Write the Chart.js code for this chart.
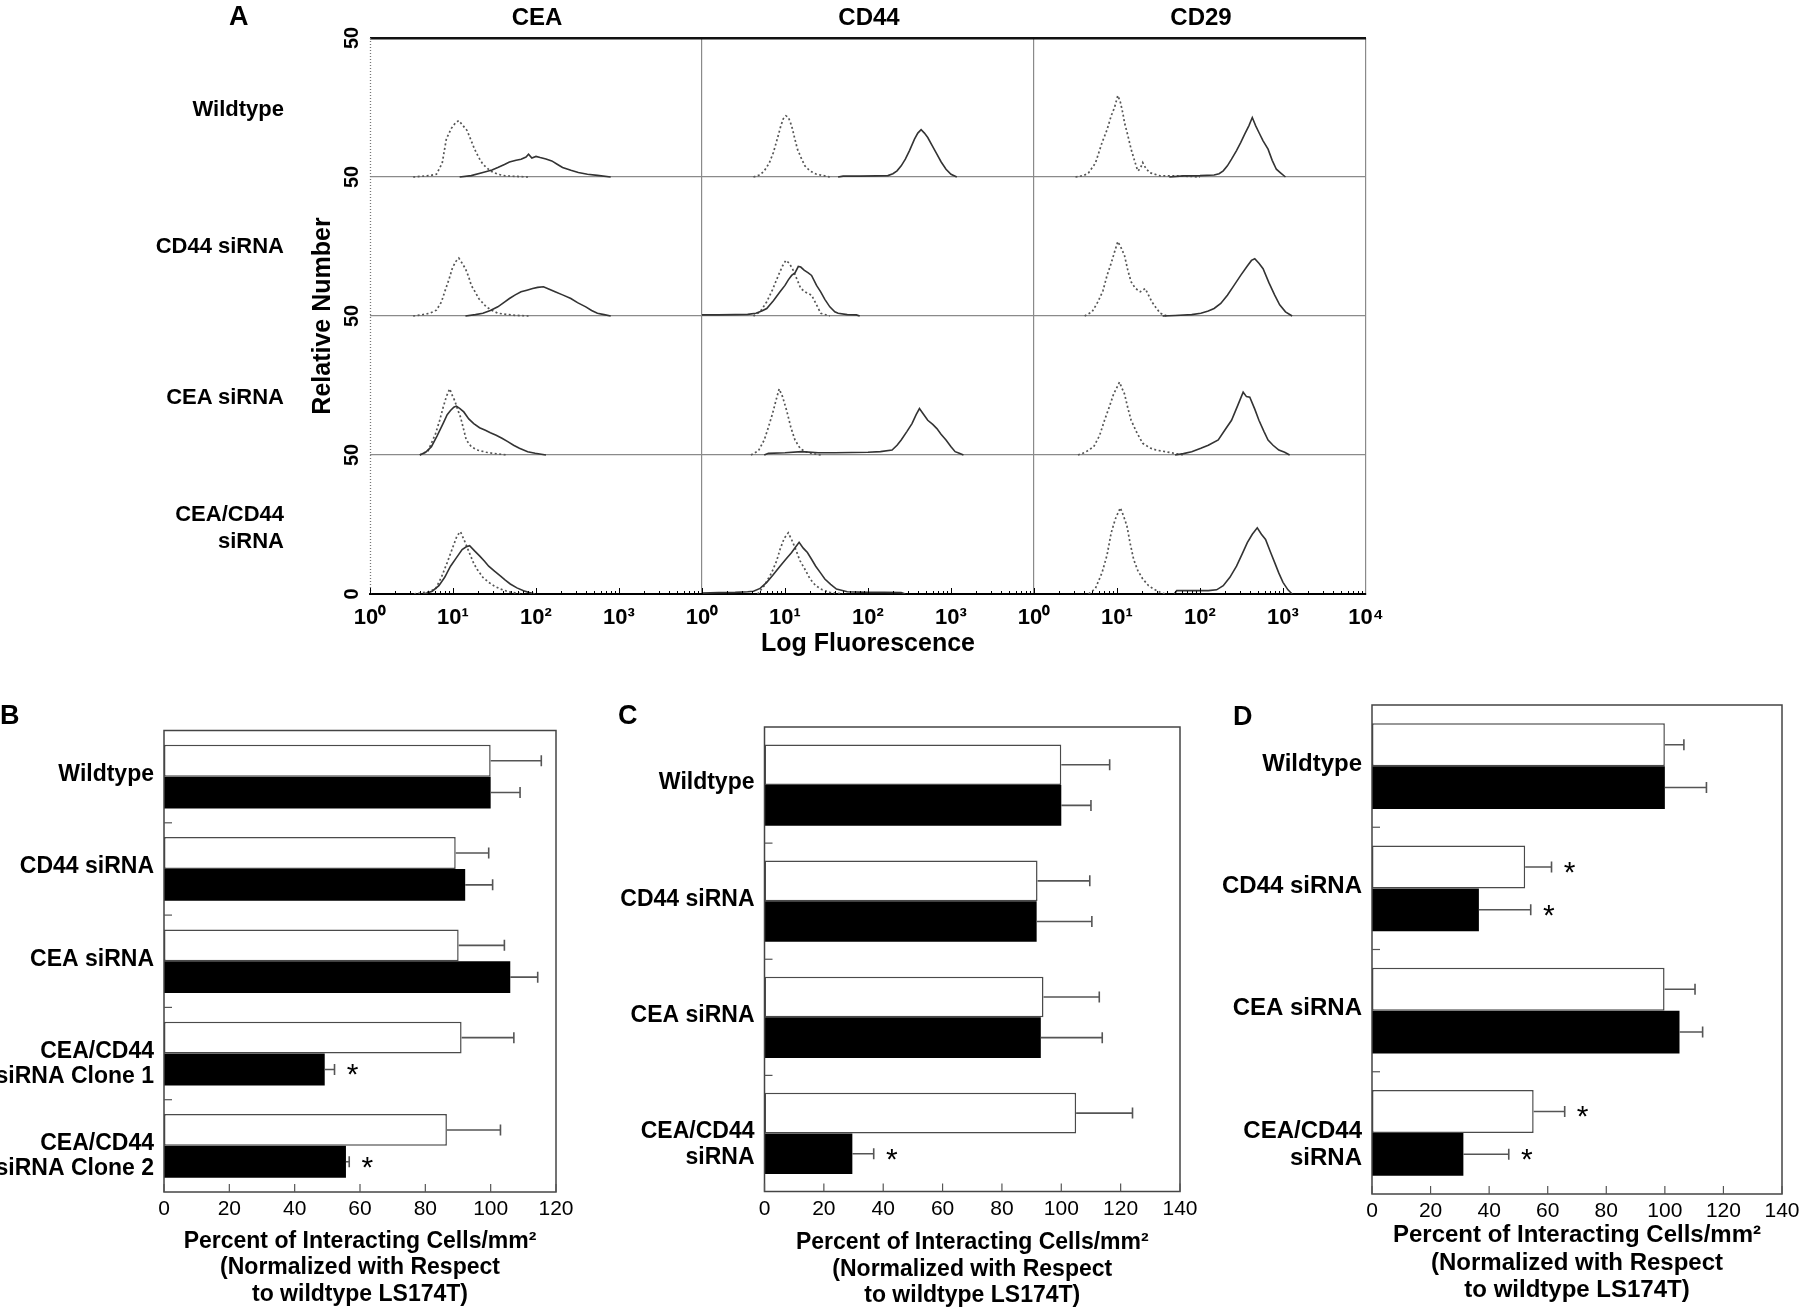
<!DOCTYPE html>
<html><head><meta charset="utf-8">
<script src="https://cdn.jsdelivr.net/npm/chart.js@4.4.1/dist/chart.umd.min.js"></script>
<style>
html,body{margin:0;padding:0;background:#fff;}
#fig{position:relative;width:1800px;height:1310px;overflow:hidden;font-family:'Liberation Sans',Arial,sans-serif;color:#000;background:#fff;}
canvas{position:absolute;}
.lbl{position:absolute;font-weight:bold;white-space:nowrap;}
.row{left:0;width:284px;text-align:right;font-size:22px;line-height:27px;}
.col{width:200px;text-align:center;font-size:24px;line-height:28px;top:3px;}
.pl{font-size:27px;line-height:30px;}
</style></head><body>
<div id="fig">
<canvas id="cA" width="1400" height="680" style="left:0;top:0"></canvas>
<canvas id="cB" width="600" height="610" style="left:0;top:700px"></canvas>
<canvas id="cC" width="600" height="610" style="left:600px;top:700px"></canvas>
<canvas id="cD" width="600" height="630" style="left:1200px;top:680px"></canvas>

<div class="lbl pl" style="left:229px;top:1px">A</div>
<div class="lbl col" style="left:437px">CEA</div>
<div class="lbl col" style="left:769px">CD44</div>
<div class="lbl col" style="left:1101px">CD29</div>
<div class="lbl row" style="top:95px">Wildtype</div>
<div class="lbl row" style="top:232px">CD44 siRNA</div>
<div class="lbl row" style="top:383px">CEA siRNA</div>
<div class="lbl row" style="top:500px">CEA/CD44<br>siRNA</div>
<div class="lbl pl" style="left:0px;top:700px">B</div>
<div class="lbl pl" style="left:618px;top:700px">C</div>
<div class="lbl pl" style="left:1233px;top:701px">D</div>
</div>
<script>
// ---------- Panel A data: [log10 fluorescence, relative number] ----------
const aColumns = ['CEA', 'CD44', 'CD29'];
const aRows = ['Wildtype', 'CD44 siRNA', 'CEA siRNA', 'CEA/CD44 siRNA'];
const aTickLabels = ['10\u2070', '10\u00B9', '10\u00B2', '10\u00B3', '10\u2074'];
const aYTickLabels = ['0', '50'];

// CEA column (dotted = control, solid = antibody)
const cea_wt_iso = [[0.52,0],[0.72,0.5],[0.80,1],[0.87,5],[0.92,13.7],[0.98,17.5],[1.03,19.5],[1.07,20.3],[1.12,18.5],[1.17,16.7],[1.22,13],[1.26,10],[1.31,7],[1.36,4.6],[1.45,2.2],[1.54,1],[1.63,0.4],[1.91,0]];
const cea_wt_ab = [[1.08,0],[1.22,0.5],[1.36,1.6],[1.47,2.5],[1.54,3.4],[1.62,4.5],[1.68,5.4],[1.76,6.0],[1.82,6.4],[1.88,7.2],[1.91,8.2],[1.95,6.8],[2.00,7.4],[2.05,7.0],[2.12,6.5],[2.19,5.8],[2.26,4.5],[2.32,3.4],[2.42,2.4],[2.51,1.6],[2.62,1],[2.74,0.6],[2.90,0]];
const cea_cd44_iso = [[0.52,0],[0.62,0.4],[0.72,1],[0.80,2.1],[0.86,5],[0.90,8.7],[0.95,13],[0.99,17],[1.03,19.5],[1.07,20.8],[1.11,19],[1.15,17],[1.19,14],[1.22,11],[1.27,8.5],[1.31,6.3],[1.40,3.3],[1.47,2],[1.54,1],[1.72,0.3],[1.91,0]];
const cea_cd44_ab = [[1.15,0],[1.27,0.5],[1.36,1],[1.45,2],[1.54,3.3],[1.62,5],[1.68,6.3],[1.75,7.6],[1.82,8.7],[1.89,9.3],[1.96,9.9],[2.02,10.3],[2.09,10.5],[2.16,9.6],[2.23,8.7],[2.32,7.6],[2.42,6.3],[2.50,4.8],[2.60,3.3],[2.67,2],[2.74,1],[2.82,0.5],[2.90,0]];
const cea_cea_iso = [[0.60,0],[0.70,1.5],[0.79,7.7],[0.84,12.5],[0.88,17],[0.92,21],[0.96,23.8],[0.99,21.5],[1.02,19.6],[1.06,16],[1.09,13.7],[1.13,9],[1.16,5.4],[1.22,3],[1.29,1.8],[1.40,1],[1.48,0.6],[1.66,0]];
const cea_cea_ab = [[0.60,0],[0.67,1],[0.74,3],[0.81,7],[0.88,11.3],[0.93,14.5],[0.97,16],[1.01,17.2],[1.04,17.6],[1.08,16.8],[1.13,15.5],[1.19,13],[1.25,11.3],[1.32,9.8],[1.39,8.9],[1.45,8],[1.52,7.1],[1.59,6],[1.66,4.8],[1.73,3.5],[1.80,2.4],[1.90,1.2],[1.99,0.6],[2.12,0]];
const cea_dko_iso = [[0.53,0],[0.70,0.8],[0.79,1.8],[0.86,6],[0.93,11.3],[1.00,17],[1.05,21],[1.09,22.4],[1.14,19],[1.20,14.6],[1.25,11],[1.29,8.9],[1.36,6],[1.43,4.2],[1.50,2.8],[1.57,1.8],[1.67,0.8],[1.75,0.4],[1.85,0]];
const cea_dko_ab = [[0.65,0],[0.75,1],[0.83,3],[0.90,6],[0.97,10],[1.04,13],[1.11,16],[1.16,17],[1.20,17.4],[1.26,15.5],[1.32,13.7],[1.38,11.8],[1.43,10],[1.50,8.2],[1.57,6.5],[1.63,5],[1.69,3.6],[1.77,2.2],[1.85,1.2],[1.92,0.5],[1.99,0]];

// CD44 column
const cd44_wt_iso = [[0.62,0],[0.70,0.8],[0.75,2.2],[0.81,5],[0.86,8.8],[0.91,14],[0.95,18.4],[0.98,21],[1.01,22],[1.04,21.5],[1.08,18.4],[1.12,13.5],[1.15,10],[1.20,6.5],[1.24,4],[1.30,2.2],[1.38,1],[1.54,0]];
const cd44_wt_ab = [[1.64,0],[1.70,0.3],[1.90,0.3],[2.10,0.4],[2.24,0.5],[2.30,1.2],[2.35,2.2],[2.40,4],[2.45,6.4],[2.50,9.5],[2.56,13.6],[2.60,15.8],[2.64,17],[2.68,15.8],[2.72,14.2],[2.77,11.5],[2.83,8.2],[2.88,5.5],[2.94,2.8],[3.00,1],[3.07,0]];
const cd44_cd44_iso = [[0.62,0],[0.70,1.5],[0.78,5.1],[0.85,9.5],[0.92,14.6],[0.97,18],[1.01,20],[1.05,19],[1.09,17],[1.14,13.5],[1.19,9.9],[1.25,8.5],[1.32,7.5],[1.38,4],[1.43,1],[1.54,0]];
const cd44_cd44_ab = [[0.00,0.4],[0.20,0.4],[0.40,0.5],[0.55,0.6],[0.65,1],[0.72,1.8],[0.78,2.7],[0.86,5.5],[0.94,8.7],[1.00,11],[1.04,13],[1.08,14.6],[1.12,15.5],[1.16,17.8],[1.19,17.6],[1.23,16.5],[1.28,15.5],[1.32,14.6],[1.38,11],[1.43,8.7],[1.48,6],[1.54,3.3],[1.60,1.5],[1.64,1],[1.75,0.5],[1.86,0.4],[1.90,0]];
const cd44_cea_iso = [[0.59,0],[0.68,1.5],[0.75,5.4],[0.80,10],[0.85,14.9],[0.89,19.5],[0.93,23.8],[0.97,21],[1.02,16],[1.07,10],[1.12,5.4],[1.18,2.5],[1.24,1.2],[1.35,0.4],[1.43,0]];
const cd44_cea_ab = [[0.75,0],[0.80,0.6],[1.00,0.8],[1.20,1.2],[1.40,0.8],[1.60,0.8],[1.80,0.9],[2.00,1],[2.15,1.2],[2.29,1.8],[2.35,3.5],[2.40,5.4],[2.47,8.5],[2.53,11.3],[2.58,14.5],[2.62,16.7],[2.66,15],[2.72,12.5],[2.78,11],[2.83,9.5],[2.88,7.5],[2.94,5.4],[3.00,3],[3.05,1.2],[3.10,0.6],[3.15,0]];
const cd44_dko_iso = [[0.67,0],[0.75,3],[0.84,7.7],[0.90,12],[0.94,16],[0.99,20],[1.04,22],[1.08,19.5],[1.13,16],[1.18,12],[1.24,8.9],[1.30,5.5],[1.37,3],[1.45,1.5],[1.54,0.6],[1.70,0]];
const cd44_dko_ab = [[0.00,0.3],[0.20,0.5],[0.40,0.6],[0.55,0.8],[0.62,1],[0.70,2],[0.78,4.2],[0.86,7],[0.94,10],[1.01,12.5],[1.08,14.9],[1.13,17],[1.17,18.6],[1.22,16.5],[1.27,14.9],[1.32,12.5],[1.37,10],[1.43,7.5],[1.48,5.4],[1.55,3.5],[1.62,1.8],[1.75,0.8],[2.00,0.6],[2.20,0.6],[2.40,0.5],[2.45,0]];

// CD29 column
const cd29_wt_iso = [[0.50,0],[0.60,0.5],[0.66,1.6],[0.74,5],[0.82,12.4],[0.88,17],[0.93,22],[0.97,25],[1.01,29.3],[1.04,27],[1.07,23],[1.09,19.6],[1.13,15],[1.17,10],[1.21,6],[1.25,2.2],[1.28,3],[1.31,5.2],[1.34,3.5],[1.39,1.6],[1.52,0.4],[1.70,0.4],[1.90,0.2],[2.00,0]];
const cd29_wt_ab = [[1.63,0],[1.80,0.4],[2.00,0.5],[2.17,0.7],[2.23,1.2],[2.28,2.2],[2.33,4],[2.38,6.4],[2.44,9.5],[2.49,12.4],[2.54,15.5],[2.59,18.5],[2.63,21.4],[2.67,18.5],[2.71,16],[2.76,13],[2.82,10],[2.87,6],[2.92,2.8],[2.97,1.5],[3.03,0]];
const cd29_cd44_iso = [[0.61,0],[0.70,1.5],[0.77,5.1],[0.83,9],[0.88,14.6],[0.93,19],[0.97,23],[1.01,26.8],[1.05,24.5],[1.09,21.8],[1.13,16.5],[1.17,12.3],[1.22,10],[1.28,8.7],[1.34,9.9],[1.38,7.5],[1.42,5.1],[1.47,3],[1.52,1],[1.60,0]];
const cd29_cd44_ab = [[1.55,0],[1.70,0.2],[1.90,0.5],[2.01,1],[2.10,1.8],[2.17,2.7],[2.25,4.5],[2.33,7.5],[2.41,11],[2.49,14.6],[2.57,18],[2.62,20],[2.66,20.6],[2.71,19],[2.76,17],[2.83,12],[2.90,7.5],[2.96,4],[3.03,1.5],[3.11,0]];
const cd29_cea_iso = [[0.53,0],[0.62,1],[0.72,3],[0.79,7],[0.85,12.5],[0.91,17.5],[0.96,22],[1.03,26.2],[1.06,24],[1.09,22],[1.13,17],[1.17,12.5],[1.24,8],[1.31,4.2],[1.40,2.5],[1.47,1.8],[1.58,1.2],[1.69,0.6],[1.80,0]];
const cd29_cea_ab = [[1.70,0],[1.80,0.5],[1.90,1.2],[2.01,2.4],[2.10,3.5],[2.22,5.4],[2.30,9],[2.38,12.5],[2.45,17.5],[2.52,22.6],[2.56,21],[2.60,20.8],[2.66,16.5],[2.71,12.5],[2.77,8.5],[2.82,5.4],[2.88,3.5],[2.95,1.8],[3.02,1],[3.08,0]];
const cd29_dko_iso = [[0.66,0],[0.74,2],[0.82,7.7],[0.88,14],[0.93,22],[0.98,27],[1.04,31],[1.08,28],[1.12,24.4],[1.16,18],[1.20,12.5],[1.25,8.5],[1.31,5.4],[1.38,3],[1.44,1.8],[1.52,0.6],[1.58,0]];
const cd29_dko_ab = [[1.69,0],[1.72,1.2],[1.90,1.2],[2.10,1.2],[2.20,1.5],[2.28,3],[2.36,6],[2.44,10],[2.51,14.5],[2.57,18.5],[2.63,21.5],[2.69,23.8],[2.74,21.5],[2.79,19.6],[2.85,15],[2.90,11.3],[2.95,7.5],[3.00,4.2],[3.06,1.5],[3.11,0]];

// ---------- Panels B, C, D data ----------
const bLabels = ['Wildtype', 'CD44 siRNA', 'CEA siRNA', ['', 'CEA/CD44', 'siRNA Clone 1'], ['', 'CEA/CD44', 'siRNA Clone 2']];
const bWhite = [100, 89.3, 90.2, 91.1, 86.6];
const bWhiteErr = [15.5, 10.1, 14.0, 16.0, 16.4];
const bWhiteSig = [0, 0, 0, 0, 0];
const bBlack = [100, 92.2, 106, 49.2, 55.7];
const bBlackErr = [9.0, 8.4, 8.4, 3.0, 1.0];
const bBlackSig = [0, 0, 0, 1, 1];
const bTicks = [0, 20, 40, 60, 80, 100, 120];

const cLabels = ['Wildtype', 'CD44 siRNA', 'CEA siRNA', ['', 'CEA/CD44', 'siRNA']];
const cWhite = [100, 92.0, 94.0, 105];
const cWhiteErr = [16.3, 17.6, 18.8, 19.0];
const cWhiteSig = [0, 0, 0, 0];
const cBlack = [100, 91.7, 93.1, 29.6];
const cBlackErr = [10.0, 18.6, 20.7, 7.2];
const cBlackSig = [0, 0, 0, 1];
const cTicks = [0, 20, 40, 60, 80, 100, 120, 140];

const dLabels = ['Wildtype', 'CD44 siRNA', 'CEA siRNA', ['', 'CEA/CD44', 'siRNA']];
const dWhite = [100, 52.3, 99.9, 55.2];
const dWhiteErr = [6.5, 9.0, 10.4, 10.6];
const dWhiteSig = [0, 1, 0, 1];
const dBlack = [100, 36.5, 105, 31.2];
const dBlackErr = [14.2, 17.7, 7.9, 15.5];
const dBlackSig = [0, 1, 0, 1];
const dTicks = [0, 20, 40, 60, 80, 100, 120, 140];

const xTitle = ['Percent of Interacting Cells/mm\u00B2', '(Normalized with Respect', 'to wildtype LS174T)'];

// ---------- Chart setup ----------
const FONT = "'Liberation Sans', Arial, sans-serif";
Chart.defaults.font.family = FONT;
Chart.defaults.color = '#000';

const isoGrid = [
  [cea_wt_iso, cd44_wt_iso, cd29_wt_iso],
  [cea_cd44_iso, cd44_cd44_iso, cd29_cd44_iso],
  [cea_cea_iso, cd44_cea_iso, cd29_cea_iso],
  [cea_dko_iso, cd44_dko_iso, cd29_dko_iso]
];
const abGrid = [
  [cea_wt_ab, cd44_wt_ab, cd29_wt_ab],
  [cea_cd44_ab, cd44_cd44_ab, cd29_cd44_ab],
  [cea_cea_ab, cd44_cea_ab, cd29_cea_ab],
  [cea_dko_ab, cd44_dko_ab, cd29_dko_ab]
];
const DEC = 4, ROWMAX = 50;
const aDatasets = [];
for (let r = 0; r < aRows.length; r++) {
  for (let c = 0; c < aColumns.length; c++) {
    const toPts = arr => arr.map(p => ({x: c * DEC + p[0], y: (aRows.length - 1 - r) * ROWMAX + p[1]}));
    aDatasets.push({label: aRows[r] + ' ' + aColumns[c] + ' ab', data: toPts(abGrid[r][c]),
      borderColor: '#333', borderWidth: 1.6, pointRadius: 0, tension: 0, fill: false});
    aDatasets.push({label: aRows[r] + ' ' + aColumns[c] + ' control', data: toPts(isoGrid[r][c]),
      borderColor: '#555', borderWidth: 1.7, borderDash: [2, 2.5], pointRadius: 0, tension: 0, fill: false});
  }
}

const aDecor = {
  id: 'aDecor',
  afterDraw(chart) {
    const {ctx, chartArea: a, scales: {x}} = chart;
    ctx.save();
    // dotted left edge (dense minor ticks)
    ctx.strokeStyle = '#777'; ctx.lineWidth = 1.3;
    ctx.setLineDash([1, 2]);
    ctx.beginPath(); ctx.moveTo(a.left + 0.5, a.top); ctx.lineTo(a.left + 0.5, a.bottom); ctx.stroke();
    ctx.setLineDash([]);
    // bottom minor ticks on log scale
    ctx.strokeStyle = '#000'; ctx.lineWidth = 1;
    for (let c = 0; c < aColumns.length; c++) {
      for (let d = 0; d < DEC; d++) {
        for (let k = 1; k <= 9; k++) {
          const px = Math.round(x.getPixelForValue(c * DEC + d + Math.log10(k))) + 0.5;
          const len = k === 1 ? 6 : 3;
          ctx.beginPath(); ctx.moveTo(px, a.bottom); ctx.lineTo(px, a.bottom - len); ctx.stroke();
        }
      }
    }
    ctx.restore();
  }
};

new Chart(document.getElementById('cA'), {
  type: 'line',
  data: {datasets: aDatasets},
  options: {
    responsive: false, animation: false, devicePixelRatio: 1,
    layout: {padding: {left: 304, right: 34, top: 38, bottom: 17}},
    plugins: {legend: {display: false}, tooltip: {enabled: false}},
    scales: {
      x: {
        type: 'linear', min: 0, max: aColumns.length * DEC,
        ticks: {stepSize: 1, autoSkip: false, maxRotation: 0, padding: 11,
          font: {size: 22, weight: 'bold'}, color: '#000',
          callback: v => v === aColumns.length * DEC ? aTickLabels[DEC] : aTickLabels[v % DEC]},
        grid: {drawTicks: false, lineWidth: 1.2,
          color: ctx => (ctx.tick && ctx.tick.value > 0 && ctx.tick.value % DEC === 0) ? '#8a8a8a' : 'rgba(0,0,0,0)'},
        border: {color: '#000', width: 2},
        title: {display: true, text: 'Log Fluorescence', font: {size: 25, weight: 'bold'}, color: '#000', padding: {top: 4, bottom: 4}},
        afterFit: s => { s.height = 69; }
      },
      y: {
        type: 'linear', min: 0, max: aRows.length * ROWMAX,
        ticks: {stepSize: ROWMAX, minRotation: 90, maxRotation: 90, crossAlign: 'center', padding: 6,
          font: {size: 20, weight: 'bold'}, color: '#000',
          callback: v => v === 0 ? aYTickLabels[0] : aYTickLabels[1]},
        grid: {drawTicks: false,
          color: ctx => !ctx.tick ? 'rgba(0,0,0,0)' : (ctx.tick.value === aRows.length * ROWMAX ? '#111' : (ctx.tick.value === 0 ? 'rgba(0,0,0,0)' : '#8a8a8a')),
          lineWidth: ctx => (ctx.tick && ctx.tick.value === aRows.length * ROWMAX) ? 2.5 : 1.2},
        border: {display: false},
        title: {display: true, text: 'Relative Number', font: {size: 25, weight: 'bold'}, color: '#000', padding: {top: 4, bottom: 4}},
        afterFit: s => { s.width = 66; }
      }
    }
  },
  plugins: [aDecor]
});

// ---------- bar panels ----------
const barDecor = {
  id: 'barDecor',
  afterDatasetsDraw(chart) {
    const {ctx, chartArea: a, scales: {x, y}} = chart;
    ctx.save();
    ctx.lineCap = 'butt';
    chart.data.datasets.forEach((ds, di) => {
      const meta = chart.getDatasetMeta(di);
      meta.data.forEach((bar, i) => {
        const x0 = x.getPixelForValue(ds.data[i]);
        const x1 = x.getPixelForValue(ds.data[i] + ds.err[i]);
        const yc = bar.y;
        ctx.strokeStyle = '#555'; ctx.lineWidth = 1.6;
        ctx.beginPath(); ctx.moveTo(x0, yc); ctx.lineTo(x1, yc);
        ctx.moveTo(x1, yc - 5.5); ctx.lineTo(x1, yc + 5.5); ctx.stroke();
        if (ds.sig[i]) {
          ctx.fillStyle = '#000';
          ctx.font = '30px ' + FONT;
          ctx.textAlign = 'center'; ctx.textBaseline = 'alphabetic';
          ctx.fillText('*', x1 + 18, yc + 15);
        }
      });
    });
    // frame
    ctx.strokeStyle = '#444'; ctx.lineWidth = 1.5;
    ctx.strokeRect(a.left, a.top, a.width, a.height);
    // inward x ticks
    ctx.lineWidth = 1.2; ctx.strokeStyle = '#555';
    x.ticks.forEach(t => {
      const px = x.getPixelForValue(t.value);
      ctx.beginPath(); ctx.moveTo(px, a.bottom); ctx.lineTo(px, a.bottom - 8); ctx.stroke();
    });
    // inward category boundary ticks
    const n = chart.data.labels.length;
    for (let i = 1; i < n; i++) {
      const yb = (y.getPixelForValue(i - 1) + y.getPixelForValue(i)) / 2;
      ctx.beginPath(); ctx.moveTo(a.left, yb); ctx.lineTo(a.left + 8, yb); ctx.stroke();
    }
    ctx.restore();
  }
};

function barPanel(id, labels, white, whiteErr, whiteSig, black, blackErr, blackSig, ticks, geom) {
  new Chart(document.getElementById(id), {
    type: 'bar',
    data: {labels: labels, datasets: [
      {label: 'white', data: white, err: whiteErr, sig: whiteSig, backgroundColor: '#fff', borderColor: '#4a4a4a', borderWidth: 1.5, borderSkipped: false},
      {label: 'black', data: black, err: blackErr, sig: blackSig, backgroundColor: '#000', borderColor: '#000', borderWidth: 0}
    ]},
    options: {
      indexAxis: 'y', responsive: false, animation: false, devicePixelRatio: 1,
      datasets: {bar: {categoryPercentage: geom.cat, barPercentage: 1}},
      layout: {padding: geom.pad},
      plugins: {legend: {display: false}, tooltip: {enabled: false}},
      scales: {
        x: {type: 'linear', min: ticks[0], max: ticks[ticks.length - 1],
          afterBuildTicks: s => { s.ticks = ticks.map(v => ({value: v})); },
          ticks: {font: {size: 21}, color: '#000', padding: geom.tickPad, maxRotation: 0},
          grid: {display: false, drawTicks: false}, border: {display: false},
          title: {display: true, text: xTitle, font: {size: geom.titleSize, weight: 'bold', lineHeight: geom.titleLH}, color: '#000', padding: {top: 2, bottom: 0}},
          afterFit: s => { s.height = geom.xh; s.paddingLeft = 0; s.paddingRight = 0; }
        },
        y: {ticks: {font: {size: geom.labSize, weight: 'bold', lineHeight: geom.labLH}, color: '#000', padding: 10, autoSkip: false, labelOffset: -2},
          grid: {display: false, drawTicks: false}, border: {display: false},
          afterFit: s => { s.width = geom.yw; s.paddingTop = 0; s.paddingBottom = 0; }
        }
      }
    },
    plugins: [barDecor]
  });
}

barPanel('cB', bLabels, bWhite, bWhiteErr, bWhiteSig, bBlack, bBlackErr, bBlackSig, bTicks,
  {cat: 0.69, pad: {left: 0, right: 44, top: 30.5, bottom: 2.5}, xh: 115.5, yw: 164, tickPad: 5, titleSize: 23, titleLH: 1.15, labSize: 23, labLH: 1.1});
barPanel('cC', cLabels, cWhite, cWhiteErr, cWhiteSig, cBlack, cBlackErr, cBlackSig, cTicks,
  {cat: 0.70, pad: {left: 0, right: 20, top: 27, bottom: 1}, xh: 117.5, yw: 164.5, tickPad: 5, titleSize: 23, titleLH: 1.15, labSize: 23, labLH: 1.15});
barPanel('cD', dLabels, dWhite, dWhiteErr, dWhiteSig, dBlack, dBlackErr, dBlackSig, dTicks,
  {cat: 0.70, pad: {left: 0, right: 18, top: 25, bottom: 5.5}, xh: 110.5, yw: 172, tickPad: 5, titleSize: 24, titleLH: 1.15, labSize: 24, labLH: 1.15});
</script>
</body></html>
